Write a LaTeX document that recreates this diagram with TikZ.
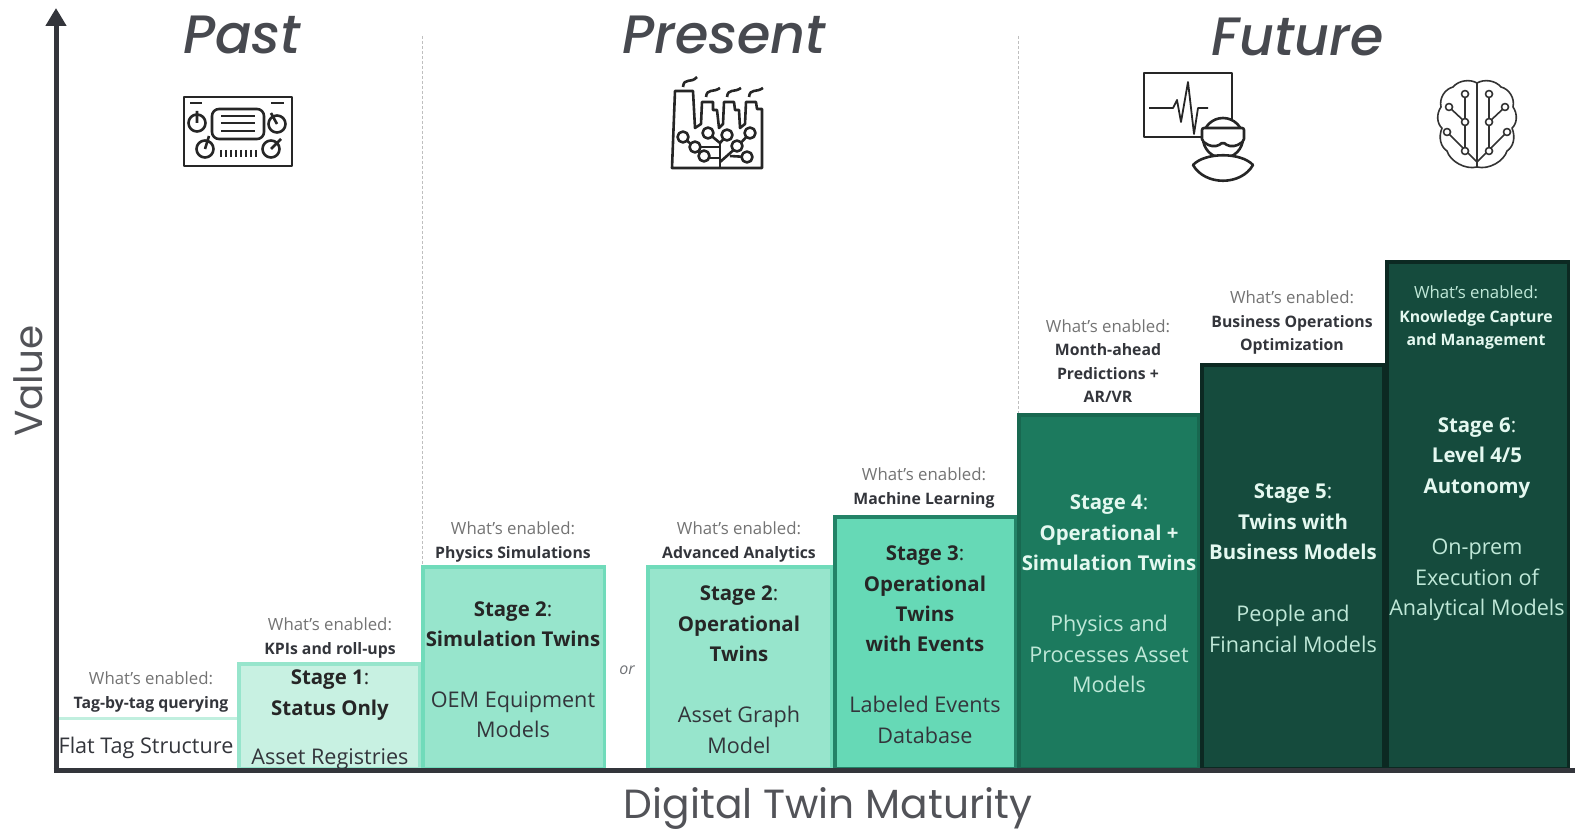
\documentclass[tikz,border=0pt]{standalone}
\usepackage{fontspec}
\setmainfont{Open Sans}
\newfontfamily\headfont[ItalicFont={Poppins Medium Italic}]{Poppins}
\usetikzlibrary{positioning}
\usetikzlibrary{arrows.meta}
\definecolor{axisgray}{HTML}{33353B}
\definecolor{stageb}{HTML}{C8F1E2}
\definecolor{stagec}{HTML}{97E5CC}
\definecolor{staged}{HTML}{66D9B6}
\definecolor{stagee}{HTML}{1C7A5E}
\definecolor{stagef}{HTML}{154B3D}
\definecolor{mintwhite}{HTML}{E4F8F0}
\definecolor{mintpale}{HTML}{BFE8D8}
\newcommand{\enabled}{{\fontsize{16.8}{23.5}\selectfont What's enabled:}}
\begin{document}
\begin{tikzpicture}[x=1pt,y=-1pt
    ,stagebox/.style={draw,line width=3.5pt,anchor=south west,inner sep=0pt}
    ,heading/.style={font=\headfont\fontsize{54}{54}\selectfont\itshape,text=axisgray!90}
    ,axislabel/.style={font=\headfont\fontsize{40.7}{40}\selectfont,text=axisgray!85}
    ,enabledtext/.style={align=center,font=\fontsize{15.8}{23.5}\selectfont,text=black!55}
    ,stagetext/.style={align=center,font=\fontsize{20.4}{30.3}\selectfont\bfseries}
    ,subtext/.style={align=center,font=\fontsize{21.6}{30.3}\selectfont}
    ,icon/.style={line width=2.6pt,black!85,line join=round}
    ,thinicon/.style={line width=1.6pt,black!80,line join=round}
    ,divider/.style={gray!50,densely dashed,line width=0.9pt}]
\useasboundingbox (0,0) rectangle (1575,832);

% boxes
\node[inner sep=0pt,anchor=south west,minimum width=179pt,minimum height=51pt] (s0) at (58,770) {};
\draw[stageb!85!stagec,line width=3.5pt] (s0.north west) -- (s0.north east);
\node[stagebox,draw=stagec,fill=stageb,minimum width=180.5pt,minimum height=104.5pt] (s1) at (237,770) {};
\node[stagebox,draw=staged!80!stagec,fill=stagec,minimum width=181.5pt,minimum height=201.5pt] (s2a) at (421,770) {};
\node[stagebox,draw=staged!80!stagec,fill=stagec,minimum width=183.5pt,minimum height=201.5pt] (s2b) at (646,770) {};
\node[stagebox,draw=stagee!90!staged,fill=staged,minimum width=180.5pt,minimum height=251.5pt] (s3) at (833,770) {};
\node[stagebox,draw=stagee!85!black,fill=stagee,minimum width=179.5pt,minimum height=353.5pt] (s4) at (1017,770) {};
\node[stagebox,draw=black!45!stagef,fill=stagef,minimum width=181.5pt,minimum height=403.5pt] (s5) at (1200,770) {};
\node[stagebox,draw=black!45!stagef,fill=stagef,minimum width=181.5pt,minimum height=506.5pt] (s6) at (1385,770) {};

% axes
\coordinate (origin) at (56,770);
\coordinate (ytop) at (56,8);
\coordinate (xend) at (1575,770);
\draw[axisgray,line width=5pt,-{Triangle[length=18pt,width=20pt]}] (origin) -- (ytop);
\draw[axisgray,line width=5pt] (53.5,770) -- (xend);
\node[axislabel,rotate=90,font=\headfont\fontsize{39}{39}\selectfont] (yname) at (28,381) {Value};
\node[axislabel] (xname) at (828,809) {Digital Twin Maturity};

% dividers
\draw[divider] (422,36) -- (422,565);
\draw[divider] (1018,36) -- (1018,413);

% headings
\node[heading] (past) at (242,35) {Past};
\node[heading] (present) at (724,35) {Present};
\node[heading] (future) at (1298,37) {Future};

% what's enabled
\node[enabledtext] (e0) at (151,692) {\enabled\\\textcolor{axisgray}{\textbf{Tag-by-tag querying}}};
\node[enabledtext] (e1) at (330,638) {\enabled\\\textcolor{axisgray}{\textbf{KPIs and roll-ups}}};
\node[enabledtext] (e2a) at (513,542) {\enabled\\\textcolor{axisgray}{\textbf{Physics Simulations}}};
\node[enabledtext] (e2b) at (739,542) {\enabled\\\textcolor{axisgray}{\textbf{Advanced Analytics}}};
\node[enabledtext] (e3) at (924,488) {\enabled\\\textcolor{axisgray}{\textbf{Machine Learning}}};
\node[enabledtext] (e4) at (1108,361) {\enabled\\\textcolor{axisgray}{\textbf{Month-ahead}}\\\textcolor{axisgray}{\textbf{Predictions +}}\\\textcolor{axisgray}{\textbf{AR/VR}}};
\node[enabledtext] (e5) at (1292,323) {\enabled\\\textcolor{axisgray}{\textbf{Business Operations}}\\\textcolor{axisgray}{\textbf{Optimization}}};
\node[enabledtext,text=mintpale] (e6) at (1476,318) {\enabled\\\textcolor{mintwhite}{\textbf{Knowledge Capture}}\\\textcolor{mintwhite}{\textbf{and Management}}};
\node[font=\fontsize{16}{16}\selectfont\itshape,text=axisgray!70] (orword) at (627,670) {or};

% stage texts
\node[subtext,text=axisgray] (t0) at (146,748) {Flat Tag Structure};
\node[stagetext,text=black!85] (t1) at (330,695) {Stage 1\textmd{:}\\Status Only};
\node[subtext,text=axisgray] (t1b) at (330,759) {Asset Registries};
\node[stagetext,text=black!85] (t2a) at (513,624) {Stage 2\textmd{:}\\Simulation Twins};
\node[subtext,text=axisgray] (t2ab) at (513,715) {OEM Equipment\\Models};
\node[stagetext,text=black!85] (t2b) at (739,624) {Stage 2\textmd{:}\\Operational\\Twins};
\node[subtext,text=axisgray] (t2bb) at (739,730) {Asset Graph\\Model};
\node[stagetext,text=black!85] (t3) at (925,599) {Stage 3\textmd{:}\\Operational\\Twins\\with Events};
\node[subtext,text=axisgray] (t3b) at (925,720) {Labeled Events\\Database};
\node[stagetext,text=mintwhite] (t4) at (1109,533) {Stage 4\textmd{:}\\Operational +\\Simulation Twins};
\node[subtext,text=mintpale] (t4b) at (1109,654) {Physics and\\Processes Asset\\Models};
\node[stagetext,text=mintwhite] (t5) at (1293,522) {Stage 5\textmd{:}\\Twins with\\Business Models};
\node[subtext,text=mintpale] (t5b) at (1293,629) {People and\\Financial Models};
\node[stagetext,text=mintwhite] (t6) at (1477,458) {Stage 6\textmd{:}\\Level 4/5\\Autonomy};
\node[subtext,text=mintpale] (t6b) at (1477,580) {On-prem\\Execution of\\Analytical Models};

% radio icon
\begin{scope}[icon]
  \draw (184,97) rectangle (292,166);
  \draw (190,103) -- (202,103) (271,103) -- (284,103);
  \draw[rounded corners=7pt] (212,109) rectangle (264,139);
  \foreach \y in {116,123,131} \draw (221,\y) -- (255,\y);
  \draw (197,123) circle (8.5pt) (197,111) -- (197,123);
  \draw (277,124) circle (8.5pt) (271,113) -- (277,124);
  \draw (205,149) circle (8.5pt) (209,136) -- (205,149);
  \draw (271,149) circle (8.5pt) (281,139) -- (271,149);
  \foreach \x in {221,226,...,256} \draw[line width=1.7pt] (\x,150) -- (\x,157);
\end{scope}

% factory icon
\begin{scope}[icon]
  \draw (672,168) -- (675,91) -- (693,91) -- (695,128) -- (701,124) -- (702,102) -- (713,102) -- (713,110) -- (717,110) -- (719,128) -- (723,124) -- (724,102) -- (734,102) -- (735,110) -- (739,110) -- (740,128) -- (745,124) -- (746,102) -- (756,102) -- (757,109) -- (762,109) -- (762,168) -- cycle;
  \draw (683,87) .. controls (684,77) and (691,84) .. (697,77);
  \foreach \x in {706,727,749} \draw (\x,97) .. controls (\x+1,88) and (\x+7,93) .. (\x+14,88);
  \draw (720,168) -- (720,143);
  \draw (683,137) -- (704,156);
  \draw (695,147) -- (720,147);
  \draw (704,158) -- (720,158);
  \draw (708,133) -- (720,143) -- (727,135);
  \draw (720,162) -- (737,147) -- (750,133);
  \draw (730,156) -- (747,157);
  \foreach \x/\y in {683/137,695/147,704/156,708/133,727/135,737/146,750/133,747/157}
    \draw[fill=white] (\x,\y) circle (5.5pt);
\end{scope}

% monitor and headset icon
\begin{scope}[icon]
  \draw (1144,73) rectangle (1232,137);
  \draw[line width=1.8pt] (1149,108) -- (1173,108) -- (1177,100) -- (1181,122) -- (1188,82) -- (1194,134) -- (1198,108) -- (1208,108);
  \draw[fill=white] (1223,138) circle (20pt);
  \draw[fill=white,rounded corners=2pt] (1202,128) -- (1244,128) -- (1244,141) -- (1236,146) -- (1228,146) -- (1223,142) -- (1218,146) -- (1210,146) -- (1202,141) -- cycle;
  \draw[fill=white] (1193,165) .. controls (1205,152) and (1241,152) .. (1253,165) .. controls (1241,186) and (1205,186) .. (1193,165) -- cycle;
\end{scope}

% brain icon
\begin{scope}[thinicon]
  \draw (1477,83) .. controls (1470,79) and (1459,80) .. (1453,87) .. controls (1445,89) and (1439,98) .. (1441,107) .. controls (1436,114) and (1437,124) .. (1442,128) .. controls (1438,138) and (1441,147) .. (1447,151) .. controls (1450,161) and (1465,170) .. (1477,167);
  \draw (1477,83) .. controls (1484,79) and (1495,80) .. (1501,87) .. controls (1509,89) and (1515,98) .. (1513,107) .. controls (1518,114) and (1517,124) .. (1512,128) .. controls (1516,138) and (1513,147) .. (1507,151) .. controls (1504,161) and (1489,170) .. (1477,167);
  \draw (1477,83) -- (1477,167);
  \draw (1465,94) -- (1465,151) (1489,94) -- (1489,151);
  \draw (1449,107) -- (1465,122) (1505,107) -- (1489,122);
  \draw (1447,132) -- (1477,162) -- (1507,132);
  \foreach \x/\y in {1465/94,1489/94,1449/107,1505/107,1465/122,1489/122,1447/132,1507/132,1465/151,1489/151}
    \draw[fill=white] (\x,\y) circle (3.5pt);
\end{scope}
\end{tikzpicture}
\end{document}
